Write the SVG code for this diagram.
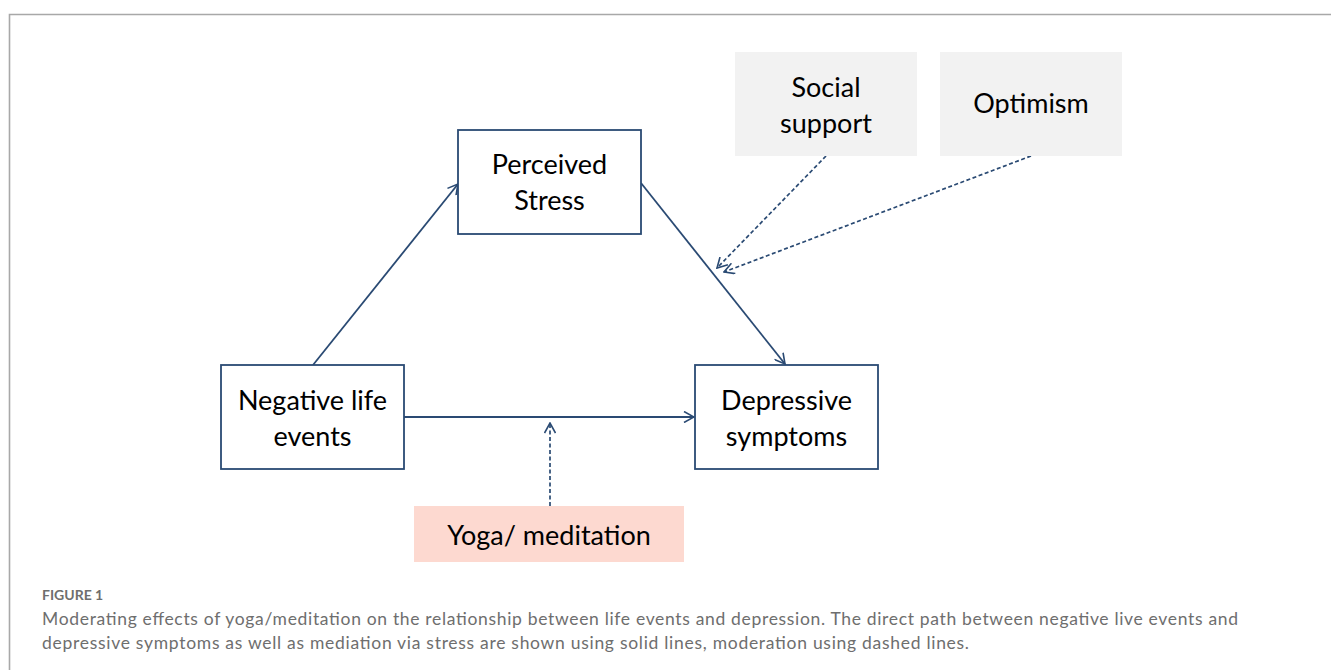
<svg xmlns="http://www.w3.org/2000/svg" width="1331" height="670" viewBox="0 0 1331 670">
<defs>
<style>
.box{fill:#fff;stroke:#2a4a73;stroke-width:1.8}
.gray{fill:#f2f2f2}
.pink{fill:#fdd9d0}
.lbl{font-family:Lato,"Liberation Sans",sans-serif;font-size:27px;fill:#000;text-anchor:middle}
.c{fill:none;stroke:#2a4a73;stroke-width:1.8}
.d{fill:none;stroke:#2a4a73;stroke-width:1.7;stroke-dasharray:4 2.5}
.cap{font-family:Lato,"Liberation Sans",sans-serif;fill:#6e6e6e}
</style>
<marker id="ah" viewBox="0 0 12 12" refX="11" refY="6" markerWidth="12" markerHeight="12" markerUnits="userSpaceOnUse" orient="auto">
<path d="M1,0.5 L11,6 L1,11.5" fill="none" stroke="#2a4a73" stroke-width="1.6"/>
</marker>
</defs>
<rect width="1331" height="670" fill="#fff"/>
<path d="M9.5,680 V14.5 H1331" fill="none" stroke="#a8a8a8" stroke-width="1.6"/>

<g id="connectors">
<line class="c" x1="313" y1="365" x2="458" y2="184" marker-end="url(#ah)"/>
<line class="c" x1="641" y1="183" x2="785" y2="364" marker-end="url(#ah)"/>
<line class="c" x1="404" y1="417" x2="694" y2="417" marker-end="url(#ah)"/>
<line class="d" x1="550" y1="506" x2="550" y2="423" marker-end="url(#ah)"/>
<line class="d" x1="826" y1="156" x2="717" y2="268" marker-end="url(#ah)"/>
<line class="d" x1="1031" y1="156" x2="724" y2="272" marker-end="url(#ah)"/>
</g>

<g id="perceived-stress">
<rect class="box" x="458" y="130" width="183" height="104"/>
<text class="lbl" x="549.5" y="174">Perceived</text>
<text class="lbl" x="549.5" y="210">Stress</text>
</g>
<g id="negative-life-events">
<rect class="box" x="221" y="365" width="183" height="104"/>
<text class="lbl" x="312.5" y="410">Negative life</text>
<text class="lbl" x="312.5" y="446">events</text>
</g>
<g id="depressive-symptoms">
<rect class="box" x="695" y="365" width="183" height="104"/>
<text class="lbl" x="786.5" y="410">Depressive</text>
<text class="lbl" x="786.5" y="446">symptoms</text>
</g>
<g id="social-support">
<rect class="gray" x="735" y="52" width="182" height="104"/>
<text class="lbl" x="826" y="97">Social</text>
<text class="lbl" x="826" y="133">support</text>
</g>
<g id="optimism">
<rect class="gray" x="940" y="52" width="182" height="104"/>
<text class="lbl" x="1031" y="113">Optimism</text>
</g>
<g id="yoga-meditation">
<rect class="pink" x="414" y="506" width="270" height="56"/>
<text class="lbl" x="549" y="545">Yoga/ meditation</text>
</g>

<g id="caption">
<text class="cap" x="42" y="600" font-size="14" font-weight="bold">FIGURE 1</text>
<text class="cap" x="42" y="625" font-size="17.5" textLength="1196" lengthAdjust="spacing">Moderating effects of yoga/meditation on the relationship between life events and depression. The direct path between negative live events and</text>
<text class="cap" x="42" y="649" font-size="17.5" textLength="927" lengthAdjust="spacing">depressive symptoms as well as mediation via stress are shown using solid lines, moderation using dashed lines.</text>
</g>
</svg>
